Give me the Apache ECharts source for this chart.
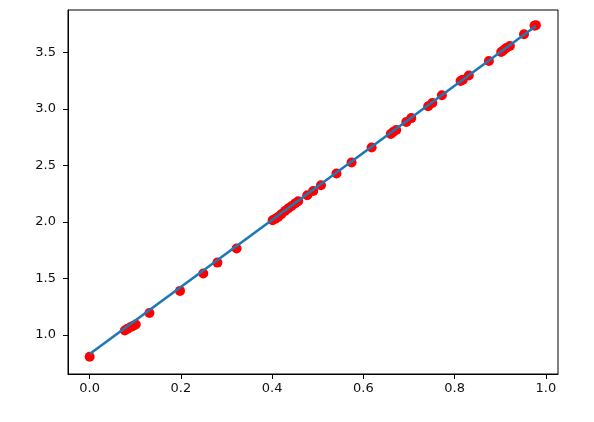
<!DOCTYPE html>
<html>
<head>
<meta charset="utf-8">
<script src="https://cdn.jsdelivr.net/npm/echarts@6/dist/echarts.min.js"></script>
<style>html,body{margin:0;padding:0;background:#fff;}#c{width:594px;height:422px;}</style>
</head>
<body>
<div id="c"></div>
<script>
const xValues = [0, 0.077, 0.083, 0.09, 0.095, 0.101, 0.131, 0.198, 0.249, 0.280, 0.322, 0.401, 0.407, 0.413, 0.420, 0.428, 0.435, 0.442, 0.450, 0.457, 0.477, 0.490, 0.507, 0.541, 0.574, 0.618, 0.660, 0.665, 0.672, 0.694, 0.705, 0.742, 0.751, 0.772, 0.813, 0.818, 0.831, 0.875, 0.902, 0.907, 0.913, 0.921, 0.952, 0.975, 0.978];
const yValues = [0.808, 1.04, 1.055, 1.07, 1.08, 1.092, 1.195, 1.39, 1.543, 1.64, 1.765, 2.015, 2.028, 2.044, 2.068, 2.097, 2.118, 2.138, 2.163, 2.183, 2.236, 2.274, 2.324, 2.428, 2.525, 2.658, 2.778, 2.795, 2.813, 2.884, 2.918, 3.023, 3.052, 3.12, 3.246, 3.258, 3.294, 3.423, 3.503, 3.518, 3.538, 3.556, 3.659, 3.735, 3.74];
const fitX = [0, 0.978];
const fitY = [0.832, 3.733];
const xTicks = [0.0, 0.2, 0.4, 0.6, 0.8, 1.0];
const yTicks = [1.0, 1.5, 2.0, 2.5, 3.0, 3.5];

const chart = echarts.init(document.getElementById('c'), null, {renderer: 'canvas'});
const labelStyle = {color: '#111', fontFamily: 'DejaVu Sans', fontSize: 13};
chart.setOption({
  animation: false,
  grid: {left: 68, right: 36, top: 10, bottom: 48, show: true, borderColor: '#000', borderWidth: 1, backgroundColor: 'transparent'},
  xAxis: {
    type: 'value', min: -0.0475, max: 1.0265,
    axisLine: {show: true, onZero: false, lineStyle: {color: '#000', width: 1}},
    axisTick: {show: true, length: 5, lineStyle: {color: '#000'}, customValues: xTicks},
    axisLabel: Object.assign({margin: 8, customValues: xTicks, formatter: v => v.toFixed(1)}, labelStyle),
    splitLine: {show: false}
  },
  yAxis: {
    type: 'value', min: 0.655, max: 3.874,
    axisLine: {show: true, onZero: false, lineStyle: {color: '#000', width: 1}},
    axisTick: {show: true, length: 5, lineStyle: {color: '#000'}, customValues: yTicks},
    axisLabel: Object.assign({margin: 12, customValues: yTicks, formatter: v => v.toFixed(1)}, labelStyle),
    splitLine: {show: false}
  },
  series: [
    {
      type: 'scatter', symbol: 'circle', symbolSize: 10,
      itemStyle: {color: '#ff0000', opacity: 1},
      data: xValues.map((x, i) => [x, yValues[i]]),
      z: 2
    },
    {
      type: 'line', symbol: 'none', silent: true,
      lineStyle: {color: '#1f77b4', width: 2.6},
      data: fitX.map((x, i) => [x, fitY[i]]),
      z: 3
    }
  ]
});
</script>
</body>
</html>
